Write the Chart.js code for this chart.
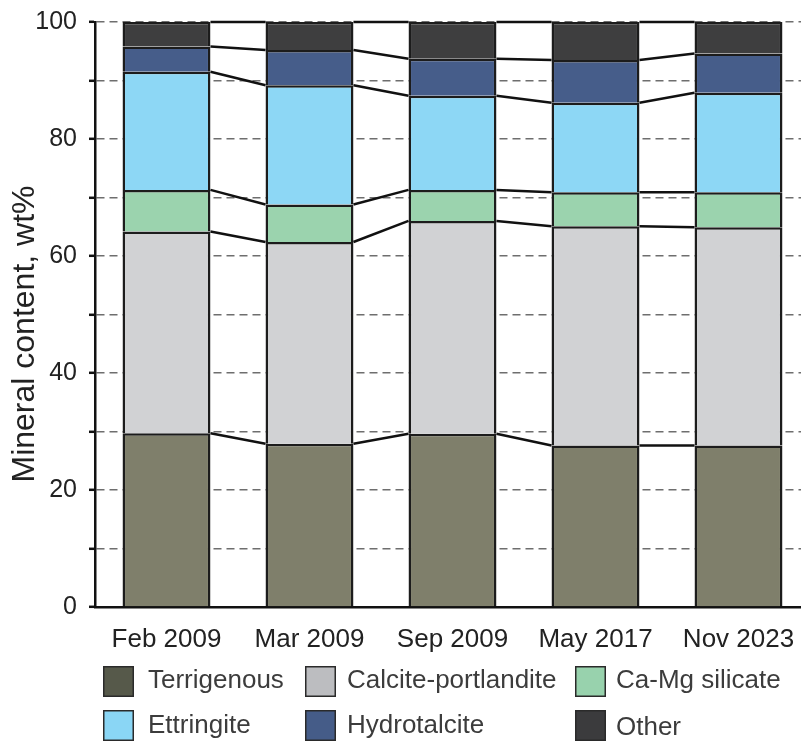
<!DOCTYPE html>
<html>
<head>
<meta charset="utf-8">
<title>Mineral content, wt%</title>
<script src="https://cdn.jsdelivr.net/npm/chart.js@4.4.1/dist/chart.umd.min.js"></script>
<style>
  html, body { margin: 0; padding: 0; background: #ffffff; overflow: hidden; }
  #wrap { width: 801px; height: 741px; overflow: hidden; }
  canvas { display: block; }
</style>
</head>
<body>
<div id="wrap"><canvas id="chart" width="815" height="741"></canvas></div>
<script>
// Sampling dates
const categories = ['Feb 2009', 'Mar 2009', 'Sep 2009', 'May 2017', 'Nov 2023'];

// Mineral phases, wt%
const terrigenous        = [29.7, 27.9, 29.6, 27.6, 27.6];
const calcitePortlandite = [34.5, 34.5, 36.4, 37.5, 37.3];
const caMgSilicate       = [7.1, 6.4, 5.3, 5.8, 6.0];
const ettringite         = [20.2, 20.4, 16.1, 15.3, 17.0];
const hydrotalcite       = [4.3, 6.0, 6.3, 7.3, 6.7];
const other              = [4.2, 4.8, 6.3, 6.5, 5.4];

const seriesNames = ['Terrigenous', 'Calcite-portlandite', 'Ca-Mg silicate', 'Ettringite', 'Hydrotalcite', 'Other'];
const seriesValues = [terrigenous, calcitePortlandite, caMgSilicate, ettringite, hydrotalcite, other];
const barColors = ['#7f7f6b', '#d1d2d4', '#9bd3ae', '#8dd7f5', '#465d8a', '#3e3e3f'];
const swatchColors = ['#56594a', '#bcbdc0', '#98d2ad', '#8ad6f5', '#455c88', '#3b3b3d'];

// Y axis ticks every 10, labelled every 20
const yTickStep = 10;
const yLabelStep = 20;
const yTitle = 'Mineral content, wt%';

const FONT = "'Liberation Sans', Arial, Helvetica, sans-serif";

// Lines joining the tops of matching layers in neighbouring bars
const connectorPlugin = {
  id: 'layerConnectors',
  afterDatasetsDraw(chart) {
    const ctx = chart.ctx;
    const y = chart.scales.y;
    const n = categories.length;
    const bars = chart.getDatasetMeta(0).data.map(b => b.getProps(['x', 'width'], true));
    ctx.save();
    ctx.strokeStyle = '#111111';
    ctx.lineWidth = 2.5;
    ctx.lineCap = 'butt';
    const cum = new Array(n).fill(0);
    seriesValues.forEach(vals => {
      for (let i = 0; i < n; i++) cum[i] += vals[i];
      for (let i = 0; i < n - 1; i++) {
        ctx.beginPath();
        ctx.moveTo(bars[i].x + bars[i].width / 2, y.getPixelForValue(cum[i]));
        ctx.lineTo(bars[i + 1].x - bars[i + 1].width / 2, y.getPixelForValue(cum[i + 1]));
        ctx.stroke();
      }
    });
    ctx.restore();
  }
};

// Rotated y-axis title, sitting slightly below the axis midpoint
const yTitlePlugin = {
  id: 'yTitle',
  afterDraw(chart) {
    const ctx = chart.ctx;
    ctx.save();
    ctx.translate(25, 334);
    ctx.rotate(-Math.PI / 2);
    ctx.font = '32px ' + FONT;
    ctx.fillStyle = '#222222';
    ctx.textAlign = 'center';
    ctx.textBaseline = 'middle';
    ctx.fillText(yTitle, 0, 0);
    ctx.restore();
  }
};

// Three-column legend below the axis
const legendPlugin = {
  id: 'gridLegend',
  afterDraw(chart) {
    const ctx = chart.ctx;
    const colSwatchX = [103, 305, 575];
    const colTextX = [148, 347, 616];
    const rowSwatchY = [666, 710];
    const rowBaseline = [688, 733];
    ctx.save();
    ctx.font = '26px ' + FONT;
    ctx.textBaseline = 'alphabetic';
    ctx.textAlign = 'left';
    seriesNames.forEach((name, k) => {
      const col = k % 3, row = Math.floor(k / 3);
      ctx.fillStyle = swatchColors[k];
      ctx.fillRect(colSwatchX[col], rowSwatchY[row], 31, 31);
      ctx.strokeStyle = '#2a2a2a';
      ctx.lineWidth = 1.5;
      ctx.strokeRect(colSwatchX[col] + 0.75, rowSwatchY[row] + 0.75, 29.5, 29.5);
      ctx.fillStyle = '#3c3c3c';
      const base = rowBaseline[row] + (name === 'Other' ? 2 : 0);
      ctx.fillText(name, colTextX[col], base);
    });
    ctx.restore();
  }
};

new Chart(document.getElementById('chart'), {
  type: 'bar',
  data: {
    labels: categories,
    datasets: seriesNames.map((name, k) => ({
      label: name,
      data: seriesValues[k],
      backgroundColor: barColors[k],
      borderColor: '#1c1c1c',
      borderWidth: 2.5,
      barPercentage: 1,
      categoryPercentage: 0.615
    }))
  },
  options: {
    responsive: false,
    animation: false,
    events: [],
    layout: { padding: { left: 0, right: 5, top: 22, bottom: 0 } },
    plugins: {
      legend: { display: false },
      tooltip: { enabled: false }
    },
    scales: {
      x: {
        stacked: true,
        grid: { display: false },
        border: { display: true, color: '#111111', width: 2.5 },
        ticks: { color: '#222222', font: { family: FONT, size: 26 }, padding: 9, maxRotation: 0 },
        afterFit(scale) { scale.height = 134; }
      },
      y: {
        stacked: true,
        min: 0,
        max: 100,
        grid: {
          color: '#6e6e6e',
          lineWidth: 1.6,
          tickColor: '#111111',
          tickLength: 6,
          tickWidth: 2.5,
          tickBorderDash: []
        },
        border: { display: true, color: '#111111', width: 2.5, dash: [8, 5] },
        ticks: {
          stepSize: yTickStep,
          color: '#222222',
          font: { family: FONT, size: 25, lineHeight: 0.6 },
          padding: 12,
          callback: v => (v % yLabelStep === 0 ? v : '')
        },
        afterFit(scale) { scale.width = 95; }
      }
    }
  },
  plugins: [connectorPlugin, yTitlePlugin, legendPlugin]
});
</script>
</body>
</html>
